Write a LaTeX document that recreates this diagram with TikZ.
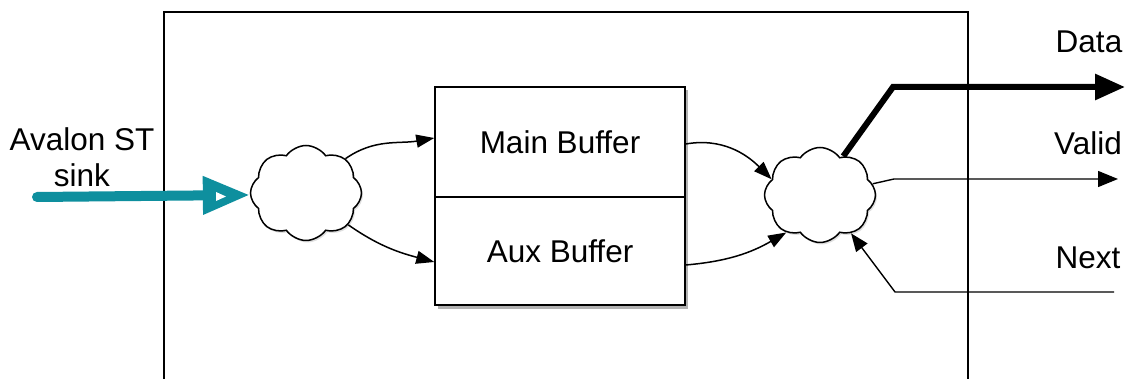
\documentclass[tikz,border=0pt]{standalone}
\usepackage{fontspec}
\setmainfont{Liberation Sans}
\usetikzlibrary{arrows.meta,shapes.symbols,shadows}
\definecolor{stteal}{RGB}{14,143,158}
\tikzset{
  lbl/.style={font=\fontsize{31.5}{36}\selectfont, inner sep=0pt},
  bufbox/.style={draw, line width=1.5pt, fill=white, minimum width=250pt, inner sep=0pt,
    font=\fontsize{31.5}{36}\selectfont},
  mux/.style={cloud, cloud puffs=8, cloud puff arc=110, aspect=1.15, draw, line width=1.5pt,
    fill=white, minimum width=111pt, minimum height=95pt, inner sep=0pt,
    drop shadow={shadow xshift=1.5pt, shadow yshift=-2pt, opacity=0.25}},
  wire/.style={line width=1.5pt, -{Triangle[length=18pt,width=13pt]}},
}
\begin{document}
\begin{tikzpicture}[x=1pt,y=-1pt]
\useasboundingbox (0,0) rectangle (1125,379);

% outer block outline, open at the bottom
\draw[line width=1.5pt] (164,379) -- (164,12) -- (968,12) -- (968,379);

% buffers with a soft shadow behind them
\fill[black,opacity=0.3] (438,90) rectangle (688,309);
\node[bufbox, minimum height=110pt] (main) at (560,142) {Main Buffer};
\node[bufbox, minimum height=108pt] (aux) at (560,251) {Aux Buffer};

% input and output selectors
\node[mux] (lc) at (306,193) {};
\node[mux] (rc) at (820,195) {};

% free ends of the interface signals
\coordinate (sinkin) at (37,197);
\coordinate (dataout) at (1125,87);
\coordinate (databend) at (893,87);
\coordinate (validout) at (1118,179);
\coordinate (validbend) at (894,179);
\coordinate (nextin) at (1114,292);
\coordinate (nextbend) at (895,292);

% Avalon ST sink input
\draw[stteal, line width=10pt, line cap=round, -{Triangle[length=47pt,width=36pt]}]
  (sinkin) -- (lc.182);
\fill[white] (216,192) -- (226,196.5) -- (216,201) -- cycle;

% selector to buffers
\draw[wire] (lc.41) to[out=35, in=190] (main.west |- 0,138);
\draw[wire] (lc.-37) to[out=-35, in=165] (aux.west |- 0,262);

% buffers to output selector
\draw[wire] (main.east |- 0,144) to[out=10, in=135] (rc.162);
\draw[wire] (aux.east |- 0,265) to[out=5, in=-150] (rc.-132);

% output signals
\draw[line width=6pt, line join=miter, -{Triangle[length=30pt,width=25pt]}]
  (rc.59) -- (databend) -- (dataout);
\draw[line width=1.4pt, -{Triangle[length=20pt,width=16pt]}]
  (rc.12) -- (validbend) -- (validout);
\draw[line width=1.4pt, -{Triangle[length=18pt,width=14pt]}]
  (nextin) -- (nextbend) -- (rc.-51);

% labels
\node[lbl] (lsink) at (82,157) [align=center] {Avalon ST\\sink};
\node[lbl] (ldata) at (1089,42) {Data};
\node[lbl] (lvalid) at (1088,143) {Valid};
\node[lbl] (lnext) at (1088,258) {Next};
\end{tikzpicture}
\end{document}
